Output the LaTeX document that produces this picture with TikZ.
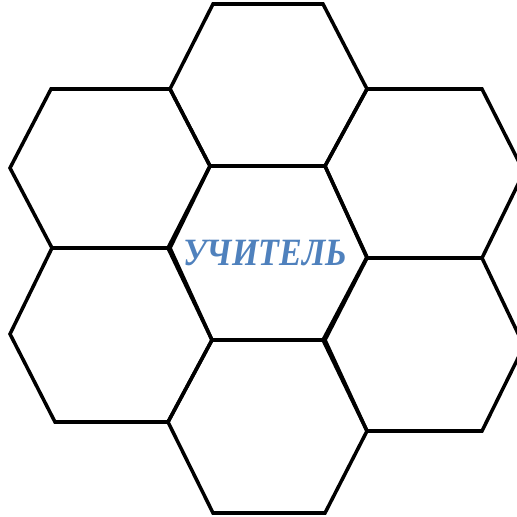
\documentclass[tikz,border=0pt]{standalone}
\usepackage{fontspec}
\setmainfont{Liberation Serif}
\usepackage{graphicx}
\usepackage{xcolor}
\definecolor{title}{RGB}{79,129,189}

\begin{document}
\begin{tikzpicture}[x=0.02cm,y=-0.02cm,
  hexln/.style={line width=2pt,black,line join=miter},
  word/.style={font=\fontsize{22}{26}\selectfont\bfseries\itshape,text=title,inner sep=0pt}]

\useasboundingbox (0,0) rectangle (517,517);
\clip (0,0) rectangle (517,517);

% top row
\draw[hexln] (213,4) -- (323,4) -- (367,89) -- (325,166) -- (210,166) -- (170,89) -- cycle;
\draw[hexln] (51,89) -- (170,89) -- (210,166) -- (168,248) -- (52,248) -- (10,168) -- cycle;
\draw[hexln] (367,89) -- (482,89) -- (524,172) -- (482,258) -- (367,258) -- (325,166) -- cycle;

% centre
\draw[hexln] (210,166) -- (325,166) -- (367,257) -- (323,340) -- (212,340) -- (170,248) -- cycle;
\node[word] (teacher) at (265,253) {\scalebox{0.88}[1]{УЧИТЕЛЬ}};

% bottom row
\draw[hexln] (52,248) -- (168,248) -- (212,340) -- (168,422) -- (55,422) -- (10,334) -- cycle;
\draw[hexln] (367,258) -- (482,258) -- (524,346) -- (482,431) -- (367,431) -- (325,340) -- cycle;
\draw[hexln] (212,340) -- (323,340) -- (367,431) -- (325,513) -- (213,513) -- (168,422) -- cycle;

\end{tikzpicture}
\end{document}
